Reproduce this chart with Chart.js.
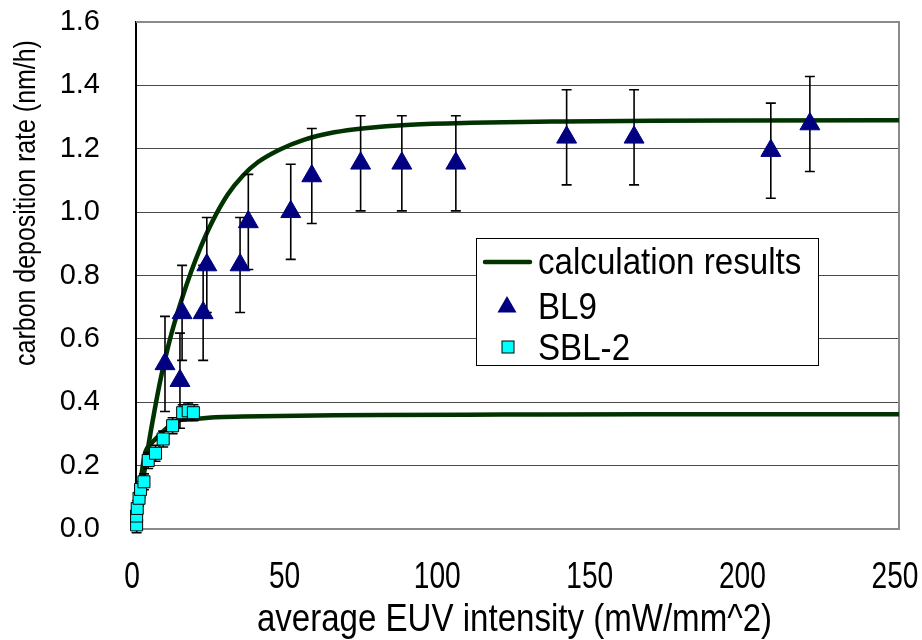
<!DOCTYPE html>
<html><head><meta charset="utf-8">
<script src="https://cdn.jsdelivr.net/npm/chart.js@4/dist/chart.umd.min.js"></script>
<style>html,body{margin:0;padding:0;background:#fff}#wrap{width:922px;height:640px;position:relative}</style>
</head><body><div id="wrap"><canvas id="c" width="922" height="640"></canvas></div>
<script>
// ---- data ----
const xTickValues = [0, 50, 100, 150, 200, 250];
const yTickValues = [0.0, 0.2, 0.4, 0.6, 0.8, 1.0, 1.2, 1.4, 1.6];

const calcUpperX = [0, 2, 4, 6, 8, 10, 12, 15, 18, 21, 25, 30, 35, 40, 47, 55, 65, 75, 90, 110, 140, 170, 200, 250];
const calcUpperY = [0, 0.135, 0.26, 0.37, 0.47, 0.555, 0.63, 0.725, 0.81, 0.885, 0.97, 1.055, 1.115, 1.158, 1.197, 1.228, 1.252, 1.265, 1.276, 1.282, 1.286, 1.288, 1.289, 1.29];

const calcLowerX = [0, 1, 2, 3, 5, 7, 10, 14, 20, 26, 35, 47, 65, 80, 120, 170, 250];
const calcLowerY = [0, 0.1, 0.185, 0.24, 0.27, 0.29, 0.318, 0.343, 0.348, 0.353, 0.355, 0.357, 0.359, 0.36, 0.361, 0.362, 0.362];

const bl9X = [9.5, 14.4, 15.1, 22.0, 23.2, 34.1, 36.8, 50.7, 57.6, 73.6, 87.1, 104.8, 141.1, 163.2, 208.0, 220.8];
const bl9Y = [0.521, 0.468, 0.682, 0.682, 0.833, 0.833, 0.969, 1.001, 1.114, 1.154, 1.154, 1.154, 1.236, 1.236, 1.194, 1.278];
const bl9Err = [0.15, 0.15, 0.15, 0.15, 0.15, 0.15, 0.15, 0.15, 0.15, 0.15, 0.15, 0.15, 0.15, 0.15, 0.15, 0.15];

const sblX = [0.2, 0.2, 0.4, 1.0, 1.5, 2.6, 4.0, 6.4, 8.9, 12.0, 15.3, 17.1, 18.8];
const sblY = [0.013, 0.041, 0.065, 0.097, 0.125, 0.149, 0.216, 0.239, 0.284, 0.326, 0.367, 0.373, 0.367];
const sblErr = [0.025, 0.025, 0.025, 0.025, 0.025, 0.025, 0.025, 0.025, 0.025, 0.025, 0.025, 0.025, 0.025];

const seriesNames = ['calculation results', 'BL9', 'SBL-2'];
const xTitle = 'average EUV intensity (mW/mm^2)';
const yTitle = 'carbon deposition rate (nm/h)';

// ---- helpers ----
const pts = (xs, ys) => xs.map((x, i) => ({x: x, y: ys[i]}));
const LINE_COLOR = '#003300';
const TRI_COLOR = '#000080';
const SQ_COLOR = '#00FFFF';
const SANS = "'Liberation Sans', Arial, sans-serif";

const errorBarPlugin = {
  id: 'errorBars',
  beforeDatasetDraw(chart, args) {
    const ds = chart.data.datasets[args.index];
    if (!ds.errors) return;
    const xs = chart.scales.x, ys = chart.scales.y;
    const ctx = chart.ctx;
    ctx.save();
    ctx.strokeStyle = '#000';
    ctx.lineWidth = 1.6;
    ds.data.forEach((p, i) => {
      const e = ds.errors[i];
      const px = xs.getPixelForValue(p.x);
      const top = ys.getPixelForValue(p.y + e);
      const bot = ys.getPixelForValue(p.y - e);
      ctx.beginPath();
      ctx.moveTo(px, top); ctx.lineTo(px, bot);
      ctx.moveTo(px - 5, top); ctx.lineTo(px + 5, top);
      ctx.moveTo(px - 5, bot); ctx.lineTo(px + 5, bot);
      ctx.stroke();
    });
    ctx.restore();
  }
};

const framePlugin = {
  id: 'frame',
  beforeDatasetsDraw(chart) {
    const a = chart.chartArea, ctx = chart.ctx;
    ctx.save();
    ctx.strokeStyle = '#8a8a8a';
    ctx.lineWidth = 2;
    ctx.beginPath();
    ctx.moveTo(a.left, a.top); ctx.lineTo(a.right, a.top); ctx.lineTo(a.right, a.bottom);
    ctx.stroke();
    ctx.restore();
  }
};

// condensed text helper (the reference uses a tall, narrow font)
function narrowText(ctx, text, x, y, size, squeeze) {
  ctx.save();
  ctx.translate(x, y);
  ctx.scale(squeeze, 1);
  ctx.font = size + 'px ' + SANS;
  ctx.fillText(text, 0, 0);
  ctx.restore();
}

const titlesPlugin = {
  id: 'axisTitles',
  afterDraw(chart) {
    const ctx = chart.ctx, a = chart.chartArea;
    const xs = chart.scales.x;
    ctx.save();
    ctx.fillStyle = '#000';
    ctx.textAlign = 'center';
    ctx.textBaseline = 'middle';
    // x tick labels, positioned by the x scale
    xs.ticks.forEach(t => {
      narrowText(ctx, String(t.value), xs.getPixelForValue(t.value) - 4, 578, 37, 0.76);
    });
    // x title
    narrowText(ctx, xTitle, (a.left + a.right) / 2 - 3, 621, 38, 0.87);
    // y title
    ctx.translate(27, 203);
    ctx.rotate(-Math.PI / 2);
    narrowText(ctx, yTitle, 0, 0, 29, 0.86);
    ctx.restore();
  }
};

const legendPlugin = {
  id: 'boxLegend',
  afterDatasetsDraw(chart) {
    const ctx = chart.ctx;
    const ds = chart.data.datasets;
    const bx = 476.5, by = 238.5, bw = 342, bh = 127;
    ctx.save();
    ctx.fillStyle = '#fff';
    ctx.fillRect(bx, by, bw, bh);
    ctx.strokeStyle = '#000';
    ctx.lineWidth = 1;
    ctx.strokeRect(bx, by, bw, bh);
    // row 1: line
    ctx.strokeStyle = ds[0].borderColor;
    ctx.lineWidth = 4.5;
    ctx.lineCap = 'round';
    ctx.beginPath(); ctx.moveTo(485, 262); ctx.lineTo(530, 262); ctx.stroke();
    // row 2: triangle
    const r = 11, tx = 507, ty = 307;
    ctx.fillStyle = ds[2].backgroundColor;
    ctx.beginPath();
    ctx.moveTo(tx, ty - r);
    ctx.lineTo(tx + r * Math.sin(2 * Math.PI / 3), ty + r * 0.5);
    ctx.lineTo(tx - r * Math.sin(2 * Math.PI / 3), ty + r * 0.5);
    ctx.closePath(); ctx.fill();
    // row 3: square
    ctx.fillStyle = ds[3].backgroundColor;
    ctx.strokeStyle = '#000';
    ctx.lineWidth = 1;
    ctx.fillRect(502, 341, 12, 12);
    ctx.strokeRect(502, 341, 12, 12);
    // texts
    ctx.fillStyle = '#000';
    ctx.textAlign = 'left';
    ctx.textBaseline = 'alphabetic';
    narrowText(ctx, ds[0].label, 538, 274, 36, 0.92);
    narrowText(ctx, ds[2].label, 538, 319, 36, 0.92);
    narrowText(ctx, ds[3].label, 538, 360, 36, 0.92);
    ctx.restore();
  }
};

new Chart(document.getElementById('c'), {
  type: 'scatter',
  data: {
    datasets: [
      {label: seriesNames[0], data: pts(calcUpperX, calcUpperY), showLine: true, borderColor: LINE_COLOR,
       backgroundColor: LINE_COLOR, borderWidth: 4.5, pointRadius: 0, cubicInterpolationMode: 'monotone', order: 3, borderCapStyle: 'round'},
      {label: 'calc-lower', data: pts(calcLowerX, calcLowerY), showLine: true, borderColor: LINE_COLOR,
       backgroundColor: LINE_COLOR, borderWidth: 4.5, pointRadius: 0, cubicInterpolationMode: 'monotone', order: 3, borderCapStyle: 'round'},
      {label: seriesNames[1], data: pts(bl9X, bl9Y), errors: bl9Err, pointStyle: 'triangle', pointRadius: 11.5,
       backgroundColor: TRI_COLOR, borderColor: TRI_COLOR, borderWidth: 1, order: 2, clip: false},
      {label: seriesNames[2], data: pts(sblX, sblY), errors: sblErr, pointStyle: 'rect', pointRadius: 8.5,
       backgroundColor: SQ_COLOR, borderColor: '#000', borderWidth: 1, order: 1, clip: false}
    ]
  },
  options: {
    responsive: false,
    animation: false,
    devicePixelRatio: 1,
    layout: {padding: {left: 0, top: 22, right: 23, bottom: 0}},
    plugins: {legend: {display: false}, tooltip: {enabled: false}},
    scales: {
      x: {
        type: 'linear', min: 0, max: 250,
        afterBuildTicks: s => { s.ticks = xTickValues.map(v => ({value: v})); },
        ticks: {display: false},
        grid: {display: false, drawTicks: false},
        border: {display: true, color: '#8a8a8a', width: 2},
        afterFit: s => { s.height = 111; s.paddingLeft = 0; s.paddingRight = 0; }
      },
      y: {
        type: 'linear', min: 0, max: 1.6,
        afterBuildTicks: s => { s.ticks = yTickValues.map(v => ({value: v})); },
        ticks: {color: '#000', font: {family: SANS, size: 29}, padding: 36, callback: v => Number(v).toFixed(1)},
        grid: {drawTicks: false, color: c => (c.tick && c.tick.value >= 1.6) ? '#8a8a8a' : '#4a4a4a', lineWidth: c => (c.tick && c.tick.value >= 1.6) ? 2 : 1},
        border: {display: true, color: '#000', width: 2},
        afterFit: s => { s.width = 136; s.paddingTop = 0; s.paddingBottom = 0; }
      }
    }
  },
  plugins: [errorBarPlugin, framePlugin, titlesPlugin, legendPlugin]
});
</script>
</body></html>
